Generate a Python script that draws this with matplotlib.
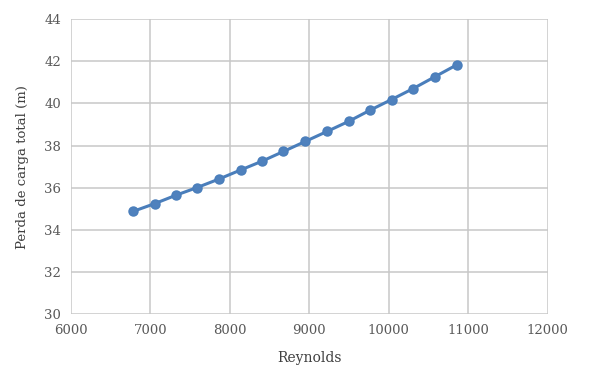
import matplotlib
matplotlib.use("Agg")
import matplotlib.pyplot as plt

reynolds = [6784, 7057, 7325, 7589, 7862, 8135, 8406, 8675, 8952, 9224,
            9497, 9761, 10034, 10306, 10579, 10852]
perda = [34.88, 35.25, 35.65, 36.01, 36.41, 36.84, 37.26, 37.72, 38.20, 38.67,
         39.15, 39.67, 40.18, 40.70, 41.26, 41.82]
xticks = [6000, 7000, 8000, 9000, 10000, 11000, 12000]
yticks = [30, 32, 34, 36, 38, 40, 42, 44]

plt.rcParams['font.family'] = ['DejaVu Serif']
fig = plt.figure(figsize=(6, 3.72), dpi=100)
ax = fig.add_axes([0.118, 0.155, 0.795, 0.794])
ax.plot(reynolds, perda, color='#4A7EBB', lw=2.2, marker='o', ms=6.5,
        markerfacecolor='#4F81BD', markeredgecolor='#4A7EBB', zorder=3)
ax.set_xlim(6000, 12000)
ax.set_ylim(30, 44)
ax.set_xticks(xticks)
ax.set_yticks(yticks)
ax.grid(True, color='#C8C8C8', lw=1.1)
for s in ax.spines.values():
    s.set_visible(False)
ax.tick_params(length=0, labelsize=9.5, colors='#595959', pad=7)
ax.set_xlabel('Reynolds', fontsize=10, color='#404040', labelpad=10)
ax.set_ylabel('Perda de carga total (m)', fontsize=9.5, color='#404040', labelpad=11)
fig.savefig('out.png', dpi=100)
